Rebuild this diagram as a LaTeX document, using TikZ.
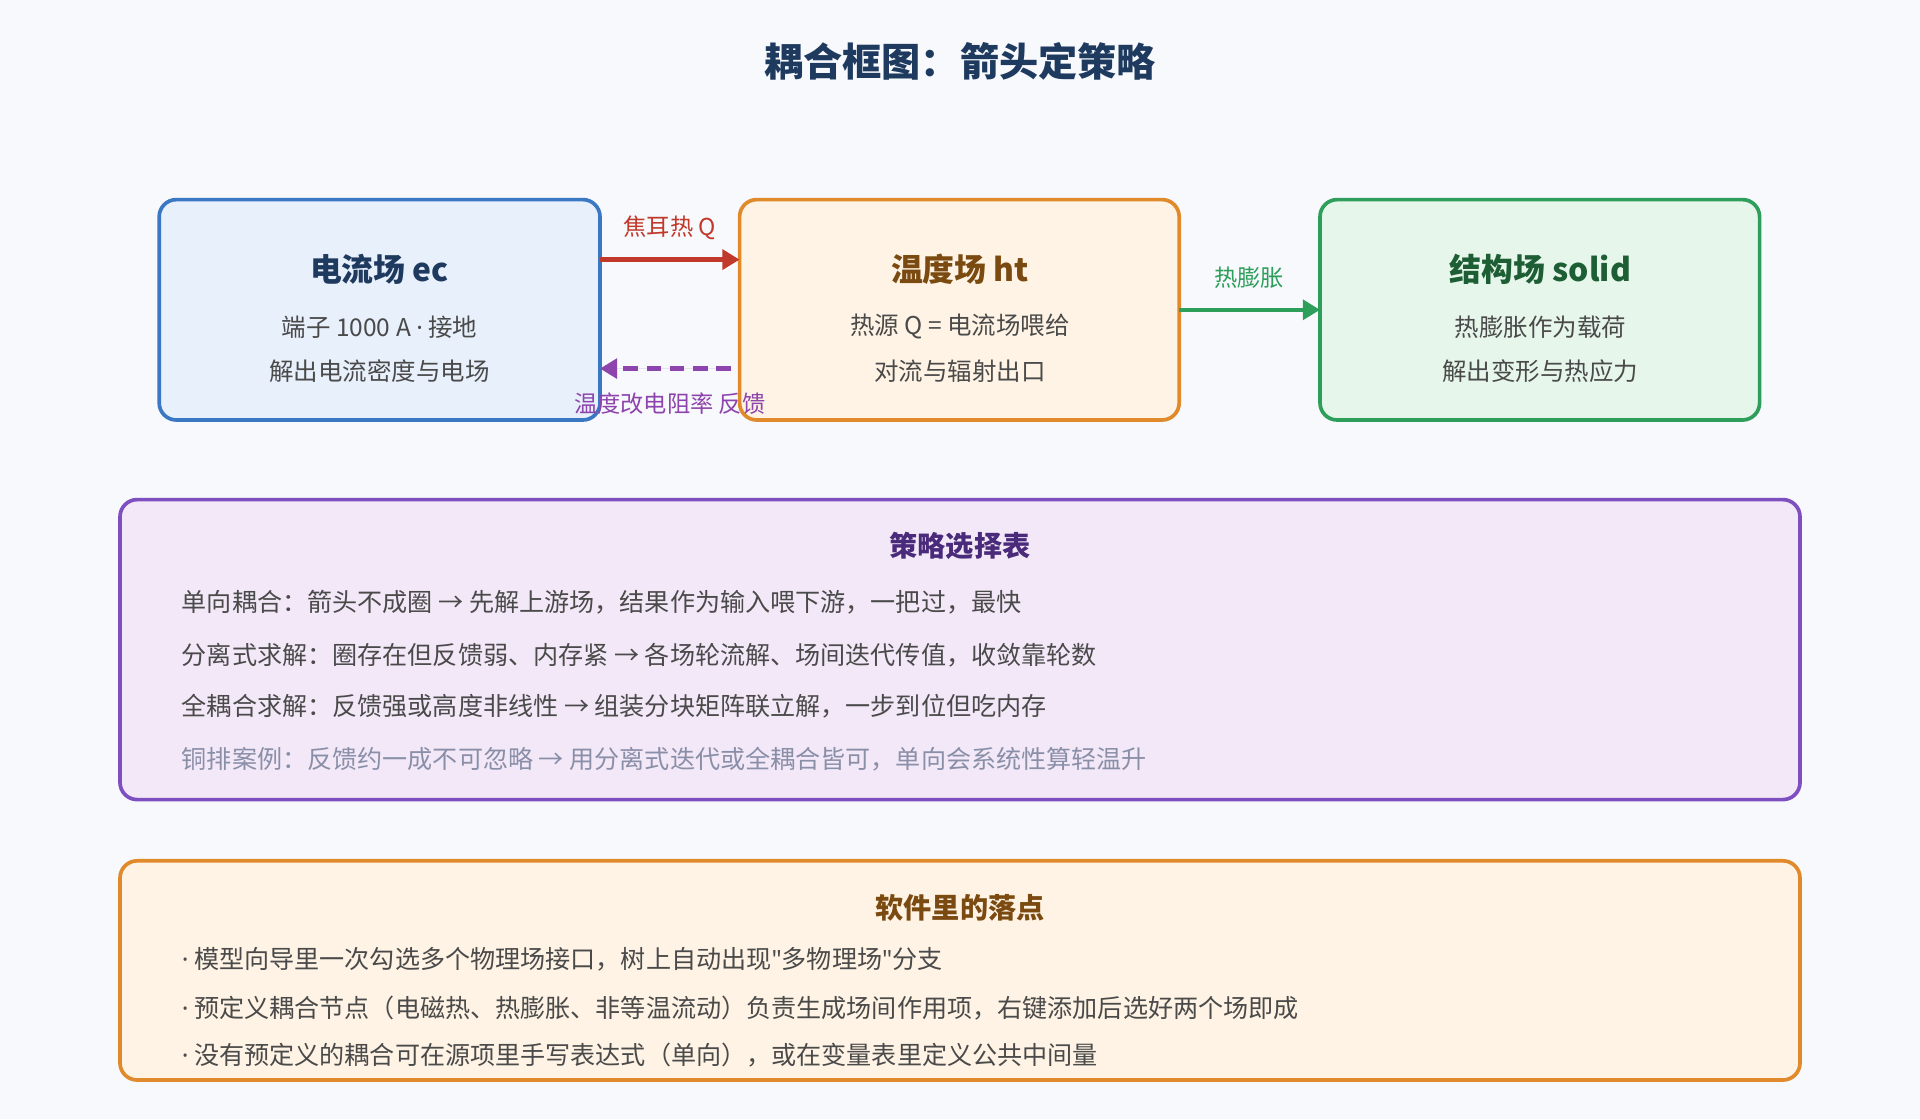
\documentclass[tikz,border=0pt]{standalone}
\usepackage{fontspec}
\setmainfont{Noto Sans CJK SC}
\newfontfamily\lat{Noto Sans}
\usetikzlibrary{arrows.meta}
\definecolor{bg}{HTML}{F7F9FC}
\definecolor{navy}{HTML}{1F3A5F}
\definecolor{txt}{HTML}{4A4A4A}
\definecolor{bb}{HTML}{3B78C4}\definecolor{bf}{HTML}{E8F0FB}
\definecolor{ob}{HTML}{E08A2C}\definecolor{of}{HTML}{FEF3E4}\definecolor{ot}{HTML}{7A4A10}
\definecolor{gb}{HTML}{2E9E5B}\definecolor{gf}{HTML}{E6F6EA}\definecolor{gt}{HTML}{1D5E35}
\definecolor{pb}{HTML}{7E4FC0}\definecolor{pf}{HTML}{F3E8F8}\definecolor{pt}{HTML}{4A2A7A}
\definecolor{red}{HTML}{C0392B}\definecolor{pur}{HTML}{8E44AD}\definecolor{gry}{HTML}{8A8FA8}
\newcommand\dq{{\lat\symbol{34}}}
\newcommand\bul{{\lat·}\ }
\begin{document}
\begin{tikzpicture}[x=1pt,y=-1pt,
 box/.style={rounded corners=14pt,line width=3pt},
 ttl/.style={font=\bfseries\fontsize{26}{30}\selectfont},
 ln/.style={font=\fontsize{20}{23}\selectfont,text=txt},
 li/.style={font=\fontsize{20.5}{23}\selectfont,text=txt,anchor=west},
 lab/.style={font=\fontsize{19}{22}\selectfont},
 arr/.style={line width=3.5pt,-{Triangle[length=14pt,width=16pt]}}]
\fill[bg] (0,0) rectangle (1568,914);
\node[font=\bfseries\fontsize{32}{36}\selectfont,text=navy] (title) at (784,50) {耦合框图：箭头定策略};
\draw[box,draw=bb,fill=bf] (130,163) rectangle (490,343);
\draw[box,draw=ob,fill=of] (604,163) rectangle (963,343);
\draw[box,draw=gb,fill=gf] (1078,163) rectangle (1437,343);
\node[ttl,text=navy] (t1) at (310,220) {电流场 ec};
\node[ln] (a1) at (310,267) {端子 1000 A {\lat·} 接地};
\node[ln] (b1) at (310,303) {解出电流密度与电场};
\node[ttl,text=ot] (t2) at (784,220) {温度场 ht};
\node[ln] (a2) at (784,267) {热源 Q = 电流场喂给};
\node[ln] (b2) at (784,303) {对流与辐射出口};
\node[ttl,text=gt] (t3) at (1258,220) {结构场 solid};
\node[ln] (a3) at (1258,267) {热膨胀作为载荷};
\node[ln] (b3) at (1258,303) {解出变形与热应力};
\coordinate (r1) at (490,212); \coordinate (r2) at (604,212);
\coordinate (p1) at (597,301); \coordinate (p2) at (490,301);
\coordinate (g1) at (963,253); \coordinate (g2) at (1078,253);
\draw[arr,draw=red,fill=red] (r1) -- (r2);
\draw[arr,draw=pur,fill=pur,dash pattern=on 12pt off 7pt] (p1) -- (p2);
\draw[arr,draw=gb,fill=gb] (g1) -- (g2);
\node[lab,text=red] (l1) at (547,186) {焦耳热 Q};
\node[lab,text=pur] (l2) at (547,330) {温度改电阻率 反馈};
\node[lab,text=gb] (l3) at (1020,227) {热膨胀};
\draw[box,draw=pb,fill=pf] (98,408) rectangle (1470,653);
\node[font=\bfseries\fontsize{23}{26}\selectfont,text=pt] (s0) at (784,446) {策略选择表};
\node[li] (s1) at (145,492) {单向耦合：箭头不成圈 → 先解上游场，结果作为输入喂下游，一把过，最快};
\node[li] (s2) at (145,535) {分离式求解：圈存在但反馈弱、内存紧 → 各场轮流解、场间迭代传值，收敛靠轮数};
\node[li] (s3) at (145,577) {全耦合求解：反馈强或高度非线性 → 组装分块矩阵联立解，一步到位但吃内存};
\node[li,text=gry] (s4) at (145,620) {铜排案例：反馈约一成不可忽略 → 用分离式迭代或全耦合皆可，单向会系统性算轻温升};
\draw[box,draw=ob,fill=of] (98,703) rectangle (1470,882);
\node[font=\bfseries\fontsize{23}{26}\selectfont,text=ot] (k0) at (784,741) {软件里的落点};
\node[li] (k1) at (145,783) {\bul 模型向导里一次勾选多个物理场接口，树上自动出现\dq 多物理场\dq 分支};
\node[li] (k2) at (145,823) {\bul 预定义耦合节点（电磁热、热膨胀、非等温流动）负责生成场间作用项，右键添加后选好两个场即成};
\node[li] (k3) at (145,862) {\bul 没有预定义的耦合可在源项里手写表达式（单向），或在变量表里定义公共中间量};
\end{tikzpicture}
\end{document}
